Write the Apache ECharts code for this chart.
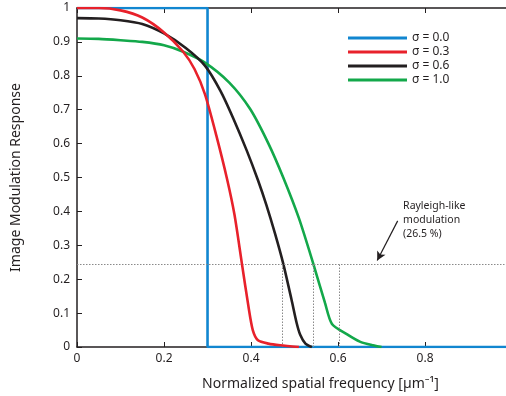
<!DOCTYPE html>
<html>
<head>
<meta charset="utf-8">
<script src="https://cdn.jsdelivr.net/npm/echarts@6/dist/echarts.min.js"></script>
<style>
  html, body { margin: 0; padding: 0; background: #fff; }
  #chart { width: 506px; height: 396px; }
</style>
</head>
<body>
<div id="chart"></div>
<script>
// curves: [frequency, response]
const sigma00 = [[0, 1], [0.3, 1], [0.3, 0], [0.986, 0]]
const sigma03 = [
  [0, 1], [0.05, 1], [0.1, 0.993], [0.15, 0.972], [0.2, 0.928], [0.244, 0.871],
  [0.27, 0.82], [0.294, 0.746], [0.32, 0.625], [0.345, 0.495], [0.362, 0.39],
  [0.379, 0.246], [0.394, 0.12], [0.404, 0.05], [0.416, 0.02], [0.44, 0.01],
  [0.467, 0.005], [0.51, 0]
]
const sigma06 = [
  [0, 0.97], [0.05, 0.969], [0.1, 0.964], [0.15, 0.953], [0.2, 0.925],
  [0.25, 0.882], [0.294, 0.83], [0.33, 0.755], [0.359, 0.675], [0.39, 0.58],
  [0.416, 0.492], [0.435, 0.42], [0.455, 0.335], [0.474, 0.246], [0.493, 0.14],
  [0.505, 0.07], [0.513, 0.036], [0.525, 0.01], [0.54, 0]
]
const sigma10 = [
  [0, 0.91], [0.05, 0.909], [0.1, 0.905], [0.15, 0.9], [0.2, 0.89],
  [0.244, 0.871], [0.294, 0.839], [0.35, 0.78], [0.398, 0.702], [0.44, 0.6],
  [0.474, 0.5], [0.51, 0.38], [0.543, 0.246], [0.57, 0.13], [0.586, 0.068],
  [0.62, 0.038], [0.65, 0.016], [0.68, 0.005], [0.7, 0]
]
const legendNames = ['σ = 0.0', 'σ = 0.3', 'σ = 0.6', 'σ = 1.0']
const colors = ['#1186d0', '#e8212b', '#231f20', '#13a84a']
const rayleighLevel = 0.245
const crossings = [0.471, 0.543, 0.602]
const arrowFrom = [0.737, 0.372]
const arrowTo = [0.69, 0.255]
const notePos = [0.738, 0.374]
const noteText = 'Rayleigh-like\nmodulation\n(26.5 %)'

const chart = echarts.init(document.getElementById('chart'))
const font = 'Noto Sans'
const ink = '#231f20'

const lineSeries = (name, data, color, z, smooth) => ({
  name,
  type: 'line',
  data,
  showSymbol: false,
  symbol: 'none',
  smooth,
  z,
  lineStyle: { color, width: 2.6 },
  itemStyle: { color }
})

const guides = {
  type: 'line',
  data: [],
  silent: true,
  z: 1,
  markLine: {
    symbol: 'none',
    silent: true,
    label: { show: false },
    lineStyle: { color: '#8a8a8a', type: [1.5, 1.5], width: 1 },
    data: [
      [{ coord: [0, rayleighLevel] }, { coord: [0.986, rayleighLevel] }],
      ...crossings.map(c => [{ coord: [c, 0] }, { coord: [c, rayleighLevel] }])
    ]
  }
}

const note = {
  type: 'line',
  data: [],
  silent: true,
  z: 6,
  markLine: {
    symbol: ['none', 'arrow'],
    symbolSize: [7, 9],
    silent: true,
    label: { show: false },
    lineStyle: { color: ink, type: 'solid', width: 1.2 },
    data: [[{ coord: arrowFrom }, { coord: arrowTo }]]
  },
  markPoint: {
    symbol: 'circle',
    symbolSize: 0,
    silent: true,
    data: [{ coord: notePos }],
    label: {
      show: true,
      position: 'right',
      formatter: noteText,
      fontFamily: font,
      fontSize: 10.5,
      lineHeight: 14,
      color: ink,
      align: 'left'
    }
  }
}

chart.setOption({
  animation: false,
  textStyle: { fontFamily: font },
  grid: { left: 77, right: 0, top: 8, bottom: 46 },
  legend: {
    data: legendNames,
    orient: 'vertical',
    left: 343,
    top: 27,
    itemWidth: 59,
    itemHeight: 3,
    itemGap: 2,
    icon: 'rect',
    textStyle: { fontFamily: font, fontSize: 12, color: ink }
  },
  xAxis: [
    {
      type: 'value',
      min: 0,
      max: 0.986,
      interval: 0.2,
      name: 'Normalized spatial frequency [µm⁻¹]',
      nameLocation: 'middle',
      nameGap: 30,
      nameTextStyle: { fontSize: 14, color: ink, padding: [0, 0, 0, 58] },
      axisLine: { lineStyle: { color: ink, width: 1.5 } },
      axisTick: { inside: true, length: 5, lineStyle: { color: ink } },
      axisLabel: { fontSize: 12, color: ink, margin: 6, showMaxLabel: false },
      splitLine: { show: false }
    },
    {
      type: 'value',
      position: 'top',
      min: 0,
      max: 0.986,
      interval: 0.2,
      axisLine: { show: true, lineStyle: { color: ink, width: 1.5 } },
      axisTick: { show: true, inside: true, length: 5, lineStyle: { color: ink } },
      axisLabel: { show: false },
      splitLine: { show: false }
    }
  ],
  yAxis: {
    type: 'value',
    min: 0,
    max: 1,
    interval: 0.1,
    name: 'Image Modulation Response',
    nameLocation: 'middle',
    nameGap: 54,
    nameTextStyle: { fontSize: 14, color: ink },
    axisLine: { show: true, lineStyle: { color: ink, width: 1.5 } },
    axisTick: { show: true, inside: true, length: 5, lineStyle: { color: ink } },
    axisLabel: { fontSize: 12, color: ink, margin: 7 },
    splitLine: { show: false }
  },
  series: [
    guides,
    lineSeries(legendNames[0], sigma00, colors[0], 2, false),
    lineSeries(legendNames[3], sigma10, colors[3], 3, 0.25),
    lineSeries(legendNames[2], sigma06, colors[2], 4, 0.25),
    lineSeries(legendNames[1], sigma03, colors[1], 5, 0.25),
    note
  ]
})
</script>
</body>
</html>
